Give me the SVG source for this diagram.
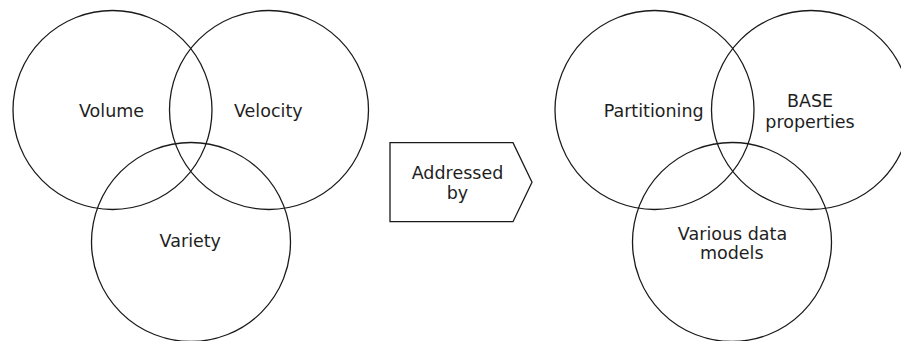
<svg xmlns="http://www.w3.org/2000/svg" width="901" height="341" viewBox="0 0 901 341">
  <style>
    .ring { fill: none; stroke: #1a1a1a; stroke-width: 1.3; }
    .label { font-family: "DejaVu Sans", "Liberation Sans", sans-serif; font-size: 17.5px; fill: #1e1e1e; text-anchor: middle; }
  </style>
  <rect width="901" height="341" fill="#ffffff"/>

  <!-- Left Venn: the three Vs -->
  <g id="volume">
    <circle class="ring" cx="112.5" cy="110" r="99.5"/>
    <text class="label" x="111.5" y="116.7">Volume</text>
  </g>
  <g id="velocity">
    <circle class="ring" cx="269" cy="110" r="99.5"/>
    <text class="label" x="268.3" y="116.7">Velocity</text>
  </g>
  <g id="variety">
    <circle class="ring" cx="191" cy="242" r="99.5"/>
    <text class="label" x="190.3" y="247">Variety</text>
  </g>

  <!-- Centre arrow block -->
  <g id="addressed-by">
    <path class="ring" d="M390 142.7 H513 L532 182.2 L513 221.7 H390 Z"/>
    <text class="label" x="457.5" y="179">Addressed</text>
    <text class="label" x="457.5" y="199.3">by</text>
  </g>

  <!-- Right Venn: the answers -->
  <g id="partitioning">
    <circle class="ring" cx="654.5" cy="110" r="99.5"/>
    <text class="label" x="653.7" y="116.7">Partitioning</text>
  </g>
  <g id="base-properties">
    <circle class="ring" cx="811" cy="110" r="99.5"/>
    <text class="label" x="810" y="106.7">BASE</text>
    <text class="label" x="810" y="127.7">properties</text>
  </g>
  <g id="various-data-models">
    <circle class="ring" cx="732" cy="242" r="99.5"/>
    <text class="label" x="732.5" y="240">Various data</text>
    <text class="label" x="731.7" y="259.3">models</text>
  </g>

  <g id="connectors"></g>
</svg>
